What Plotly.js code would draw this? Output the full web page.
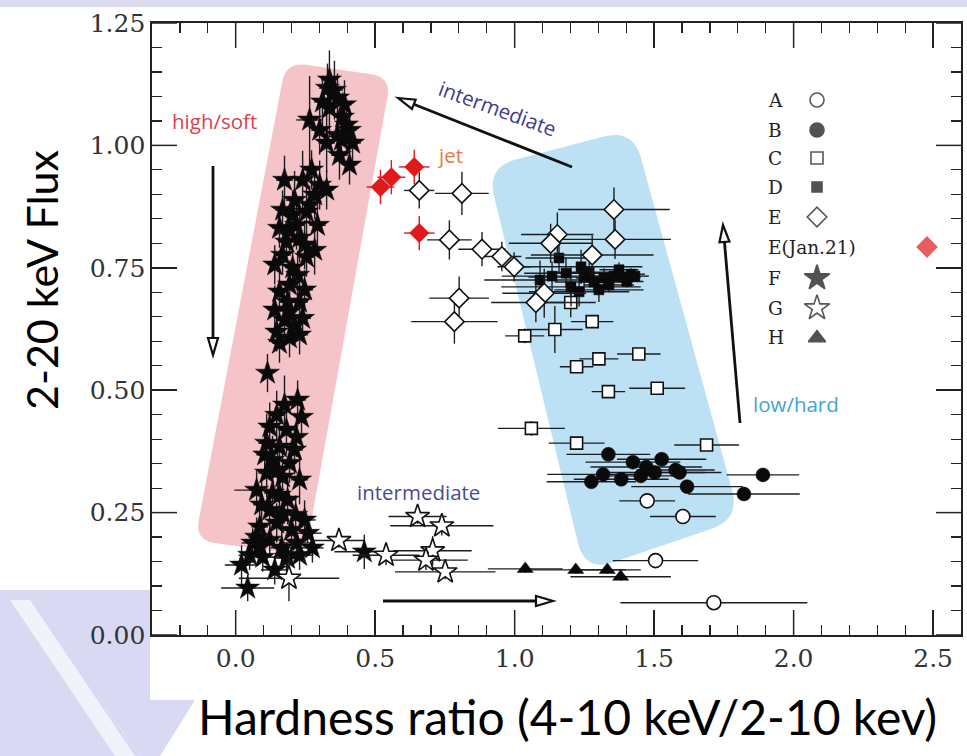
<!DOCTYPE html>
<html><head><meta charset="utf-8">
<script src="https://cdn.plot.ly/plotly-3.0.1.min.js"></script>
<style>html,body{margin:0;padding:0;background:#fff}#chart{width:967px;height:756px}</style>
</head><body><div id="chart"></div>
<script>
// ---------------- DATA ----------------
const seriesNames = ["A", "B", "C", "D", "E", "E(Jan.21)", "F", "G", "H"];

const A_x = [1.475, 1.603, 1.505, 1.714];
const A_y = [0.274, 0.242, 0.152, 0.066];
const A_xerr = [0.100, 0.118, 0.153, 0.335];
const A_yerr = [0.010, 0.010, 0.012, 0.010];

const B_x = [1.336, 1.424, 1.527, 1.472, 1.577, 1.591, 1.317, 1.275, 1.382, 1.452, 1.502, 1.618, 1.890, 1.822];
const B_y = [0.369, 0.353, 0.359, 0.343, 0.337, 0.332, 0.328, 0.313, 0.318, 0.325, 0.332, 0.303, 0.327, 0.288];
const B_xerr = [0.15, 0.17, 0.16, 0.20, 0.14, 0.15, 0.20, 0.16, 0.17, 0.15, 0.18, 0.20, 0.13, 0.20];
const B_yerr = [0.010, 0.010, 0.012, 0.010, 0.010, 0.010, 0.010, 0.010, 0.010, 0.012, 0.010, 0.010, 0.010, 0.010];

const C_x = [1.278, 1.144, 1.036, 1.201, 1.445, 1.302, 1.222, 1.336, 1.511, 1.060, 1.222, 1.688];
const C_y = [0.640, 0.624, 0.611, 0.679, 0.574, 0.564, 0.548, 0.497, 0.504, 0.422, 0.392, 0.388];
const C_xerr = [0.076, 0.100, 0.070, 0.090, 0.078, 0.070, 0.060, 0.060, 0.100, 0.120, 0.100, 0.116];
const C_yerr = [0.012, 0.048, 0.015, 0.030, 0.010, 0.012, 0.012, 0.010, 0.010, 0.015, 0.010, 0.010];

const D_x = [1.159, 1.091, 1.134, 1.184, 1.238, 1.249, 1.202, 1.231, 1.284, 1.320, 1.356, 1.392, 1.417, 1.302, 1.338, 1.267, 1.374, 1.402, 1.431];
const D_y = [0.770, 0.725, 0.733, 0.739, 0.752, 0.731, 0.711, 0.701, 0.721, 0.729, 0.733, 0.731, 0.737, 0.705, 0.715, 0.741, 0.746, 0.722, 0.733];
const D_xerr = [0.12, 0.20, 0.18, 0.15, 0.22, 0.20, 0.25, 0.18, 0.14, 0.10, 0.08, 0.06, 0.05, 0.16, 0.09, 0.12, 0.07, 0.06, 0.05];
const D_yerr = [0.030, 0.040, 0.030, 0.030, 0.035, 0.030, 0.040, 0.030, 0.020, 0.020, 0.015, 0.012, 0.012, 0.025, 0.015, 0.020, 0.015, 0.012, 0.010];

const E_x = [0.658, 0.811, 0.766, 0.883, 0.954, 0.998, 0.801, 0.784, 1.153, 1.129, 1.356, 1.360, 1.278, 1.106, 1.076];
const E_y = [0.908, 0.902, 0.807, 0.788, 0.773, 0.752, 0.688, 0.640, 0.818, 0.800, 0.869, 0.808, 0.776, 0.698, 0.679];
const E_xerr = [0.054, 0.096, 0.080, 0.085, 0.070, 0.060, 0.107, 0.155, 0.130, 0.150, 0.200, 0.200, 0.220, 0.150, 0.160];
const E_yerr = [0.037, 0.044, 0.040, 0.035, 0.030, 0.030, 0.044, 0.045, 0.045, 0.040, 0.045, 0.040, 0.040, 0.050, 0.040];

const Ej_x = [0.519, 0.558, 0.640, 0.658];
const Ej_y = [0.915, 0.935, 0.956, 0.821];
const Ej_xerr = [0.050, 0.050, 0.055, 0.055];
const Ej_yerr = [0.035, 0.035, 0.035, 0.035];

const F_x = [0.336, 0.329, 0.311, 0.365, 0.265, 0.336, 0.383, 0.397, 0.326, 0.379, 0.419, 0.408, 0.365,
  0.272, 0.240, 0.301, 0.326, 0.283, 0.168, 0.204, 0.254, 0.157, 0.218, 0.182, 0.229, 0.168, 0.254, 0.204,
  0.222, 0.157, 0.186, 0.229, 0.193, 0.240, 0.147, 0.193, 0.157, 0.114, 0.222, 0.147, 0.236, 0.122, 0.182,
  0.218, 0.111, 0.157, 0.132, 0.193, 0.111, 0.168, 0.075, 0.132, 0.186, 0.122, 0.168, 0.086, 0.147, 0.075,
  0.200, 0.258, 0.061, 0.122, 0.218, 0.097, 0.182, 0.021, 0.043, 0.461, 0.186,
  0.175, 0.211, 0.265, 0.193, 0.247, 0.140, 0.193, 0.247, 0.140, 0.211, 0.175, 0.229, 0.283, 0.293,
  0.354, 0.390, 0.301, 0.408, 0.372,
  0.175, 0.104, 0.211, 0.150, 0.229, 0.093, 0.157, 0.215, 0.086, 0.165, 0.229, 0.140, 0.050, 0.247, 0.275];
const F_y = [1.134, 1.117, 1.089, 1.097, 1.052, 1.076, 1.058, 1.042, 1.005, 1.011, 1.005, 0.960, 1.021,
  0.950, 0.929, 0.919, 0.909, 0.899, 0.868, 0.858, 0.864, 0.831, 0.837, 0.803, 0.811, 0.776, 0.772, 0.750,
  0.735, 0.701, 0.680, 0.680, 0.660, 0.647, 0.619, 0.607, 0.596, 0.535, 0.480, 0.449, 0.445, 0.425, 0.419,
  0.404, 0.392, 0.384, 0.357, 0.351, 0.331, 0.323, 0.296, 0.290, 0.276, 0.255, 0.249, 0.221, 0.229, 0.200,
  0.214, 0.208, 0.188, 0.194, 0.188, 0.159, 0.159, 0.143, 0.096, 0.170, 0.157,
  0.929, 0.888, 0.878, 0.827, 0.797, 0.756, 0.715, 0.705, 0.664, 0.633, 0.643, 0.613, 0.786, 0.837,
  1.113, 1.083, 1.031, 1.031, 0.980,
  0.470, 0.368, 0.378, 0.337, 0.317, 0.266, 0.286, 0.245, 0.184, 0.178, 0.163, 0.133, 0.163, 0.235, 0.178];
const F_xerr = [0.030, 0.030, 0.030, 0.030, 0.048, 0.025, 0.030, 0.025, 0.030, 0.025, 0.030, 0.025, 0.025,
  0.030, 0.030, 0.030, 0.025, 0.030, 0.025, 0.030, 0.030, 0.025, 0.030, 0.030, 0.030, 0.030, 0.030, 0.025,
  0.030, 0.025, 0.030, 0.030, 0.025, 0.030, 0.025, 0.030, 0.025, 0.020, 0.030, 0.030, 0.025, 0.030, 0.030,
  0.025, 0.030, 0.030, 0.030, 0.025, 0.030, 0.030, 0.080, 0.030, 0.030, 0.030, 0.030, 0.030, 0.030, 0.030,
  0.040, 0.050, 0.040, 0.040, 0.050, 0.060, 0.060, 0.060, 0.095, 0.107, 0.050,
  0.030, 0.030, 0.025, 0.030, 0.030, 0.025, 0.030, 0.030, 0.025, 0.030, 0.030, 0.030, 0.025, 0.030,
  0.030, 0.025, 0.030, 0.025, 0.030,
  0.030, 0.030, 0.030, 0.025, 0.030, 0.030, 0.030, 0.030, 0.040, 0.040, 0.050, 0.050, 0.040, 0.040, 0.040];
const F_yerr = [0.060, 0.050, 0.050, 0.050, 0.090, 0.060, 0.050, 0.050, 0.060, 0.050, 0.040, 0.040, 0.050,
  0.040, 0.060, 0.050, 0.040, 0.050, 0.040, 0.050, 0.050, 0.040, 0.050, 0.040, 0.050, 0.040, 0.040, 0.040,
  0.050, 0.040, 0.040, 0.040, 0.040, 0.040, 0.040, 0.040, 0.040, 0.039, 0.040, 0.050, 0.040, 0.050, 0.050,
  0.040, 0.060, 0.050, 0.050, 0.040, 0.050, 0.050, 0.040, 0.050, 0.050, 0.040, 0.040, 0.050, 0.040, 0.040,
  0.030, 0.020, 0.030, 0.030, 0.030, 0.030, 0.030, 0.040, 0.027, 0.035, 0.030,
  0.050, 0.060, 0.040, 0.050, 0.050, 0.040, 0.050, 0.040, 0.050, 0.040, 0.050, 0.040, 0.050, 0.060,
  0.060, 0.050, 0.050, 0.040, 0.050,
  0.060, 0.050, 0.050, 0.060, 0.050, 0.050, 0.060, 0.040, 0.040, 0.040, 0.030, 0.030, 0.030, 0.040, 0.030];

const G_x = [0.652, 0.739, 0.370, 0.539, 0.706, 0.682, 0.751, 0.191];
const G_y = [0.242, 0.223, 0.193, 0.163, 0.172, 0.153, 0.129, 0.116];
const G_xerr = [0.104, 0.185, 0.090, 0.120, 0.140, 0.150, 0.180, 0.180];
const G_yerr = [0.015, 0.020, 0.015, 0.020, 0.030, 0.020, 0.015, 0.047];

const H_x = [1.038, 1.219, 1.332, 1.380];
const H_y = [0.135, 0.133, 0.133, 0.119];
const H_xerr = [0.134, 0.180, 0.120, 0.180];
const H_yerr = [0.008, 0.008, 0.008, 0.008];

const xMajorTicks = [0.0, 0.5, 1.0, 1.5, 2.0, 2.5];
const yMajorTicks = [0.00, 0.25, 0.50, 0.75, 1.00, 1.25];

// ---------------- LAYOUT GEOMETRY ----------------
const L = 152, R = 961, T = 23, B = 635;
const XR = [-0.3, 2.6], YR = [0, 1.25];
const dx = px => XR[0] + (px - L) / (R - L) * (XR[1] - XR[0]);
const dy = py => YR[0] + (B - py) / (B - T) * (YR[1] - YR[0]);
const pxp = px => (px - L) / (R - L);
const pyp = py => (B - py) / (B - T);

function roundedPath(pts, r) {
  let s = '';
  const n = pts.length;
  for (let i = 0; i < n; i++) {
    const p0 = pts[(i - 1 + n) % n], p1 = pts[i], p2 = pts[(i + 1) % n];
    const v1 = [p0[0] - p1[0], p0[1] - p1[1]], v2 = [p2[0] - p1[0], p2[1] - p1[1]];
    const l1 = Math.hypot(v1[0], v1[1]), l2 = Math.hypot(v2[0], v2[1]);
    const a = [p1[0] + v1[0] / l1 * r, p1[1] + v1[1] / l1 * r];
    const b = [p1[0] + v2[0] / l2 * r, p1[1] + v2[1] / l2 * r];
    s += (i === 0 ? 'M' : 'L') + dx(a[0]) + ',' + dy(a[1]) + ' Q' + dx(p1[0]) + ',' + dy(p1[1]) + ' ' + dx(b[0]) + ',' + dy(b[1]) + ' ';
  }
  return s + 'Z';
}

function arrow(t, h, len, hw) {
  const ux = h[0] - t[0], uy = h[1] - t[1];
  const l = Math.hypot(ux, uy);
  const u = [ux / l, uy / l], nr = [-u[1], u[0]];
  const base = [h[0] - u[0] * len, h[1] - u[1] * len];
  const p1 = [base[0] + nr[0] * hw, base[1] + nr[1] * hw];
  const p2 = [base[0] - nr[0] * hw, base[1] - nr[1] * hw];
  return [
    {type: 'line', xref: 'x', yref: 'y', x0: dx(t[0]), y0: dy(t[1]), x1: dx(base[0]), y1: dy(base[1]),
     line: {color: '#111', width: 2.8}},
    {type: 'path', xref: 'x', yref: 'y',
     path: `M${dx(h[0])},${dy(h[1])} L${dx(p1[0])},${dy(p1[1])} L${dx(p2[0])},${dy(p2[1])} Z`,
     fillcolor: '#ffffff', line: {color: '#111', width: 2.2}}
  ];
}

const errStyle = (arr, c) => ({type: 'data', array: arr, visible: true, color: c, thickness: 1.4, width: 0});

function tr(name, x, y, xe, ye, marker, ec) {
  const c = ec || '#1c1f22';
  return {type: 'scatter', mode: 'markers', name: name, x: x, y: y,
    error_x: errStyle(xe, c), error_y: errStyle(ye, c), marker: marker, showlegend: false,
    hoverinfo: 'x+y+name', cliponaxis: false};
}

const openLine = {color: '#111', width: 1.6};
const blk = '#0a0a0a', red = '#e0191b';
const traces = [
  tr('F', F_x, F_y, F_xerr, F_yerr, {symbol: 'star', size: 18, color: blk, line: {color: blk, width: 0.5}}),
  tr('G', G_x, G_y, G_xerr, G_yerr, {symbol: 'star', size: 18, color: '#ffffff', line: openLine}),
  tr('H', H_x, H_y, H_xerr, H_yerr, {symbol: 'triangle-up', size: 14, color: blk, line: {color: blk, width: 0.5}}),
  tr('A', A_x, A_y, A_xerr, A_yerr, {symbol: 'circle', size: 14, color: '#ffffff', line: openLine}),
  tr('B', B_x, B_y, B_xerr, B_yerr, {symbol: 'circle', size: 14, color: blk, line: {color: blk, width: 0.5}}),
  tr('C', C_x, C_y, C_xerr, C_yerr, {symbol: 'square', size: 12, color: '#ffffff', line: openLine}),
  tr('D', D_x, D_y, D_xerr, D_yerr, {symbol: 'square', size: 10, color: blk, line: {color: blk, width: 0.5}}),
  tr('E', E_x, E_y, E_xerr, E_yerr, {symbol: 'diamond', size: 15, color: '#ffffff', line: openLine}),
  tr('E(Jan.21)', Ej_x, Ej_y, Ej_xerr, Ej_yerr, {symbol: 'diamond', size: 15, color: red, line: {color: red, width: 0.5}}, red)
];

// legend key (custom, text left of symbol as in the original)
const legRowsY = [100, 130, 158, 187, 217, 247, 278, 308, 338];
const legSymbols = ['circle', 'circle', 'square', 'square', 'diamond', 'diamond', 'star', 'star', 'triangle-up'];
const legFill = ['#ffffff', blk, '#ffffff', blk, '#ffffff', red, blk, '#ffffff', blk];
const legLine = ['#111', blk, '#111', blk, '#111', red, blk, '#111', blk];
const legSize = [14, 14, 12, 10, 15, 15, 19, 19, 15];
const legX = legRowsY.map((_, i) => i === 5 ? 927 : 817);
traces.push({type: 'scatter', mode: 'markers', xaxis: 'x2', yaxis: 'y2', x: legX, y: legRowsY,
  marker: {symbol: legSymbols, color: legFill, size: legSize, line: {color: legLine, width: 1.6}},
  showlegend: false, hoverinfo: 'skip'});

const serif = 'DejaVu Serif, Liberation Serif, serif';
const annotations = [];
seriesNames.forEach((nm, i) => {
  annotations.push({xref: 'paper', yref: 'paper', x: pxp(766), y: pyp(legRowsY[i]), xanchor: 'left', yanchor: 'middle',
    text: nm, showarrow: false, font: {family: serif, size: 18.5, color: '#222'}});
});
const lab = (txt, px, py, color, angle) => ({xref: 'paper', yref: 'paper', x: pxp(px), y: pyp(py), xanchor: 'center', yanchor: 'middle',
  text: txt, showarrow: false, textangle: angle || 0, font: {family: 'Open Sans, Noto Sans, sans-serif', size: 20.5, color: color}});
annotations.push(lab('high/soft', 214, 121, '#d8414f'));
annotations.push(lab('jet', 450, 155, '#e57a45'));
annotations.push(lab('intermediate', 497, 108, '#3c3c8c', 20));
annotations.push(lab('intermediate', 418, 492, '#4b4b96'));
annotations.push(lab('low/hard', 796, 404, '#3fa3da'));
// axis titles
annotations.push({xref: 'paper', yref: 'paper', x: pxp(567), y: pyp(716), xanchor: 'center', yanchor: 'middle',
  text: 'Hardness ratio (4-10 keV/2-10 kev)', showarrow: false, font: {family: 'Lato, sans-serif', size: 48, color: '#000'}});
annotations.push({xref: 'paper', yref: 'paper', x: pxp(42), y: pyp(280), xanchor: 'center', yanchor: 'middle', textangle: -90,
  text: '2-20 keV Flux', showarrow: false, font: {family: 'Lato, sans-serif', size: 43, color: '#000'}});

// long major tick marks on all four sides (drawn as shapes at the major tick values)
const tickLen = 25, tickStyle = {color: '#222', width: 1.5};
const majorTickShapes = [];
xMajorTicks.forEach(v => {
  majorTickShapes.push({type: 'line', xref: 'x', yref: 'y', x0: v, x1: v, y0: YR[0], y1: dy(B - tickLen), line: tickStyle});
  majorTickShapes.push({type: 'line', xref: 'x', yref: 'y', x0: v, x1: v, y0: YR[1], y1: dy(T + tickLen), line: tickStyle});
});
yMajorTicks.forEach(v => {
  majorTickShapes.push({type: 'line', xref: 'x', yref: 'y', y0: v, y1: v, x0: XR[0], x1: dx(L + tickLen), line: tickStyle});
  majorTickShapes.push({type: 'line', xref: 'x', yref: 'y', y0: v, y1: v, x0: XR[1], x1: dx(R - tickLen), line: tickStyle});
});

const shapes = [
  // page decorations
  {type: 'rect', xref: 'paper', yref: 'paper', x0: pxp(0), x1: pxp(967), y0: pyp(0), y1: pyp(7), fillcolor: '#dcdcf1', line: {width: 0}, layer: 'below'},
  {type: 'path', xref: 'paper', yref: 'paper', layer: 'below', fillcolor: '#d9d9f3', line: {width: 0},
   path: `M${pxp(0)},${pyp(590)} L${pxp(150)},${pyp(590)} L${pxp(150)},${pyp(700)} L${pxp(100)},${pyp(700)} L${pxp(140)},${pyp(756)} L${pxp(0)},${pyp(756)} Z`},
  {type: 'path', xref: 'paper', yref: 'paper', layer: 'below', fillcolor: '#f2f2fb', line: {width: 0},
   path: `M${pxp(10)},${pyp(600)} L${pxp(30)},${pyp(600)} L${pxp(135)},${pyp(756)} L${pxp(115)},${pyp(756)} Z`},
  {type: 'path', xref: 'paper', yref: 'paper', layer: 'below', fillcolor: '#d9d9f3', line: {width: 0},
   path: `M${pxp(100)},${pyp(700)} L${pxp(195)},${pyp(700)} L${pxp(160)},${pyp(756)} L${pxp(140)},${pyp(756)} Z`},
  // state regions
  {type: 'path', xref: 'x', yref: 'y', layer: 'below', fillcolor: '#f5c4c8', line: {width: 0},
   path: roundedPath([[286, 62], [391, 77], [305, 556], [195, 540]], 20)},
  {type: 'path', xref: 'x', yref: 'y', layer: 'below', fillcolor: '#bce0f4', line: {width: 0},
   path: roundedPath([[487, 167], [633, 129], [740, 519], [585, 572]], 30)},
  ...arrow([213, 166], [213, 355], 17, 5),
  ...arrow([572, 167], [398, 98], 17, 5),
  ...arrow([740, 423], [723, 225], 17, 5),
  ...arrow([383, 601], [553, 601], 17, 5),
  ...majorTickShapes
];

const tickFont = {family: serif, size: 25, color: '#333'};
const major = {
  tickmode: 'linear', ticks: 'inside', ticklen: 25, tickwidth: 1.5, tickcolor: '#222',
  showline: true, linecolor: '#222', linewidth: 1.6, mirror: 'ticks',
  showgrid: false, zeroline: false, tickfont: tickFont
};
const tickOnly = (len, w) => ({
  tickmode: 'linear', ticks: 'inside', ticklen: len, tickwidth: w, tickcolor: '#222',
  showline: false, mirror: 'ticks', showticklabels: false, showgrid: false, zeroline: false, fixedrange: true
});
const layout = {
  width: 967, height: 756,
  margin: {l: L, r: 967 - R, t: T, b: 756 - B, pad: 0},
  paper_bgcolor: '#ffffff', plot_bgcolor: 'rgba(0,0,0,0)',
  showlegend: false,
  xaxis: Object.assign({}, major, {range: XR, tick0: 0, dtick: 0.5, tickformat: '.1f'}),
  yaxis: Object.assign({}, major, {range: YR, tick0: 0, dtick: 0.25, tickformat: '.2f'}),
  xaxis2: {overlaying: 'x', range: [L, R], visible: false, fixedrange: true},
  yaxis2: {overlaying: 'y', range: [B, T], visible: false, fixedrange: true},
  // minor ticks
  xaxis3: Object.assign({}, tickOnly(10, 1.2), {overlaying: 'x', anchor: 'y3', range: XR, tick0: 0, dtick: 0.1}),
  yaxis3: Object.assign({}, tickOnly(10, 1.2), {overlaying: 'y', anchor: 'x3', range: YR, tick0: 0, dtick: 0.05}),
  shapes: shapes,
  annotations: annotations
};
traces.push({type: 'scatter', mode: 'markers', xaxis: 'x3', yaxis: 'y3', x: [], y: [], showlegend: false, hoverinfo: 'skip'});

Plotly.newPlot('chart', traces, layout, {staticPlot: true, displayModeBar: false});
</script>
</body></html>
